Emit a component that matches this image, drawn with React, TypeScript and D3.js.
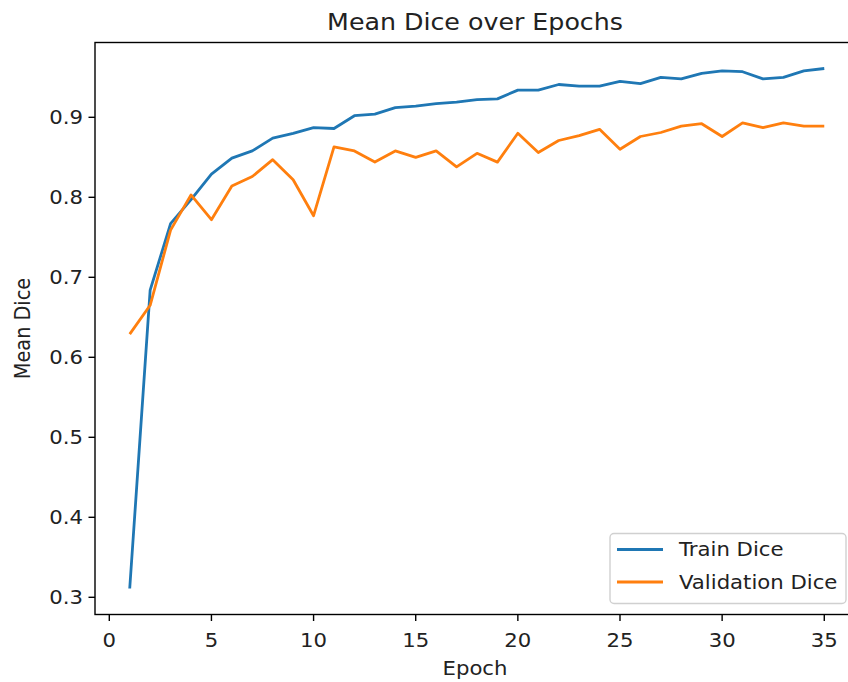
// App.tsx
import React from 'react';
import * as d3 from 'd3';

// Values
const epochs = d3.range(1, 36);

const trainDice = [
  0.311, 0.684, 0.767, 0.797, 0.829, 0.849, 0.858, 0.874, 0.880, 0.887,
  0.886, 0.902, 0.904, 0.912, 0.914, 0.917, 0.919, 0.922, 0.923, 0.934,
  0.934, 0.941, 0.939, 0.939, 0.945, 0.942, 0.950, 0.948, 0.955, 0.958,
  0.957, 0.948, 0.950, 0.958, 0.961,
];

const valDice = [
  0.629, 0.665, 0.759, 0.803, 0.772, 0.814, 0.826, 0.847, 0.822, 0.777,
  0.863, 0.858, 0.844, 0.858, 0.850, 0.858, 0.838, 0.855, 0.844, 0.880,
  0.856, 0.871, 0.877, 0.885, 0.860, 0.876, 0.881, 0.889, 0.892, 0.876,
  0.893, 0.887, 0.893, 0.889, 0.889,
];

const xTicks = [0, 5, 10, 15, 20, 25, 30, 35];
const yTicks = [0.3, 0.4, 0.5, 0.6, 0.7, 0.8, 0.9];

const series = [
  { label: 'Train Dice', values: trainDice, color: '#1f77b4' },
  { label: 'Validation Dice', values: valDice, color: '#ff7f0e' },
];

const W = 848;
const H = 682;
const FONT = '"DejaVu Sans", sans-serif';
const TEXT = '#222';
// the reference picture is slightly stretched sideways, so text is too
const SX = 1.1;

// Text placed at (x, y) with the horizontal stretch applied
const Label = ({ x, y, size, anchor = 'start', rotate = 0, dy, children }: any) => (
  <g transform={`translate(${x},${y}) scale(${SX},1)${rotate ? ` rotate(${rotate})` : ''}`}>
    <text textAnchor={anchor} dy={dy} fontSize={size} fill={TEXT}>{children}</text>
  </g>
);

const App = () => {
  // axes box (right edge runs past the picture, as in the reference)
  const left = 95;
  const right = 859;
  const top = 42.5;
  const bottom = 614.5;

  // matplotlib-style 5% margins around data
  const xPad = (35 - 1) * 0.05;
  const xScale = d3.scaleLinear().domain([1 - xPad, 35 + xPad]).range([left, right]);

  const allVals = trainDice.concat(valDice);
  const yMin = d3.min(allVals) as number;
  const yMax = d3.max(allVals) as number;
  const yPad = (yMax - yMin) * 0.05;
  const yScale = d3.scaleLinear().domain([yMin - yPad, yMax + yPad]).range([bottom, top]);

  const line = d3.line<number>()
    .x((_, i) => xScale(epochs[i]))
    .y(d => yScale(d));

  // legend box
  const legX = 610;
  const legY = 533.5;
  const legW = 236;
  const legH = 70;

  return (
    <svg
      width={W}
      height={H}
      style={{ position: 'absolute', left: 0, top: 0, background: '#fff' }}
      fontFamily={FONT}
    >
      <defs>
        <clipPath id="plot-area">
          <rect x={left} y={top} width={right - left} height={bottom - top} />
        </clipPath>
      </defs>

      {/* Title */}
      <Label x={(left + right) / 2 - 2} y={30} size={23} anchor="middle">
        Mean Dice over Epochs
      </Label>

      {/* Lines */}
      <g clipPath="url(#plot-area)">
        {series.map(s => (
          <path
            key={s.label}
            d={line(s.values) || ''}
            fill="none"
            stroke={s.color}
            strokeWidth="2.8"
            strokeLinejoin="round"
            strokeLinecap="butt"
          />
        ))}
      </g>

      {/* Spines */}
      <rect
        x={left}
        y={top}
        width={right - left}
        height={bottom - top}
        fill="none"
        stroke="#000"
        strokeWidth="1.4"
      />

      {/* X axis */}
      <g>
        {xTicks.map(t => (
          <g key={t}>
            <line
              x1={xScale(t)}
              x2={xScale(t)}
              y1={bottom}
              y2={bottom + 6.5}
              stroke="#000"
              strokeWidth="1.4"
            />
            <Label x={xScale(t)} y={bottom + 32} size={19.3} anchor="middle">{t}</Label>
          </g>
        ))}
        <Label x={(left + right) / 2 - 2} y={675} size={19.3} anchor="middle">
          Epoch
        </Label>
      </g>

      {/* Y axis */}
      <g>
        {yTicks.map(t => (
          <g key={t}>
            <line
              x1={left}
              x2={left - 6.5}
              y1={yScale(t)}
              y2={yScale(t)}
              stroke="#000"
              strokeWidth="1.4"
            />
            <Label x={left - 12} y={yScale(t)} dy="0.36em" size={19.3} anchor="end">
              {t.toFixed(1)}
            </Label>
          </g>
        ))}
        <Label x={30} y={(top + bottom) / 2} size={19.3} anchor="middle" rotate={-90}>
          Mean Dice
        </Label>
      </g>

      {/* Legend */}
      <g>
        <rect
          x={legX}
          y={legY}
          width={legW}
          height={legH}
          rx="4"
          fill="#fff"
          fillOpacity="0.8"
          stroke="#d0d0d0"
          strokeWidth="1.4"
        />
        {series.map((s, i) => (
          <g key={s.label}>
            <line
              x1={legX + 7}
              x2={legX + 53}
              y1={legY + 16 + i * 32.5}
              y2={legY + 16 + i * 32.5}
              stroke={s.color}
              strokeWidth="2.8"
            />
            <Label x={legX + 69} y={legY + 16 + i * 32.5} dy="0.36em" size={19.3}>
              {s.label}
            </Label>
          </g>
        ))}
      </g>
    </svg>
  );
};

export default App;
